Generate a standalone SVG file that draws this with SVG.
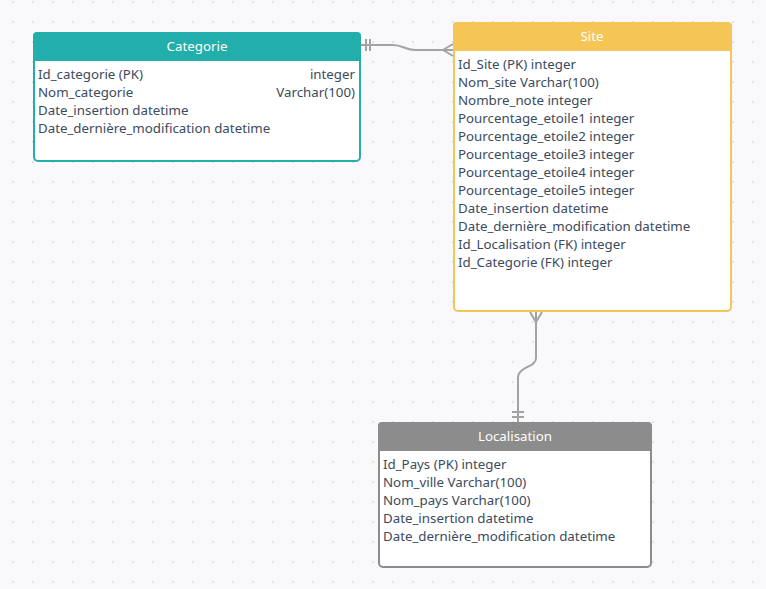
<svg xmlns="http://www.w3.org/2000/svg" width="766" height="589" viewBox="0 0 766 589">
<defs>
<pattern id="dots" x="3" y="-8" width="20" height="20" patternUnits="userSpaceOnUse">
<circle cx="10" cy="10" r="1.1" fill="#dcdce2"/>
</pattern>
<style>
.t{font-family:"Noto Sans","Open Sans",sans-serif;font-size:13.3px;fill:#3b4a5e}
.h{font-family:"Noto Sans","Open Sans",sans-serif;font-size:13.3px;fill:#ffffff;text-anchor:middle}
.c{fill:none;stroke:#a3a3a3;stroke-width:2}
</style>
</defs>
<rect width="766" height="589" fill="#f9f9fb"/>
<rect width="766" height="589" fill="url(#dots)"/>
<g id="connectors">
<path class="c" d="M360 45 H393 C403 45 405 50 415 50 H453"/>
<path class="c" d="M366 39 V51 M370 39 V51"/>
<path class="c" d="M443 50 L453 44 M443 50 L453 56"/>
<path class="c" d="M536 312 V358 C536 368 518 366 518 378 V422"/>
<path class="c" d="M536 322 L530 312 M536 322 L542 312"/>
<path class="c" d="M512 412 H524 M512 417 H524"/>
</g>
<g id="categorie">
<rect x="34" y="33" width="326" height="128" rx="4" fill="#ffffff" stroke="#22aeaa" stroke-width="2"/>
<path d="M33 61 V36 a4 4 0 0 1 4 -4 H357 a4 4 0 0 1 4 4 V61 Z" fill="#22aeaa"/>
<text class="h" x="197" y="51">Categorie</text>
<text class="t" x="38" y="79">Id_categorie (PK)</text>
<text class="t" x="355" y="79" text-anchor="end">integer</text>
<text class="t" x="38" y="97">Nom_categorie</text>
<text class="t" x="355" y="97" text-anchor="end">Varchar(100)</text>
<text class="t" x="38" y="115">Date_insertion datetime</text>
<text class="t" x="38" y="133">Date_dernière_modification datetime</text>
</g>
<g id="site">
<rect x="454" y="23" width="277" height="288" rx="4" fill="#ffffff" stroke="#f5c556" stroke-width="2"/>
<path d="M453 51 V26 a4 4 0 0 1 4 -4 H728 a4 4 0 0 1 4 4 V51 Z" fill="#f5c556"/>
<text class="h" x="592" y="41">Site</text>
<text class="t" x="458" y="69">Id_Site (PK) integer</text>
<text class="t" x="458" y="87">Nom_site Varchar(100)</text>
<text class="t" x="458" y="105">Nombre_note integer</text>
<text class="t" x="458" y="123">Pourcentage_etoile1 integer</text>
<text class="t" x="458" y="141">Pourcentage_etoile2 integer</text>
<text class="t" x="458" y="159">Pourcentage_etoile3 integer</text>
<text class="t" x="458" y="177">Pourcentage_etoile4 integer</text>
<text class="t" x="458" y="195">Pourcentage_etoile5 integer</text>
<text class="t" x="458" y="213">Date_insertion datetime</text>
<text class="t" x="458" y="231">Date_dernière_modification datetime</text>
<text class="t" x="458" y="249">Id_Localisation (FK) integer</text>
<text class="t" x="458" y="267">Id_Categorie (FK) integer</text>
</g>
<g id="localisation">
<rect x="379" y="423" width="272" height="144" rx="4" fill="#ffffff" stroke="#8c8c8c" stroke-width="2"/>
<path d="M378 451 V426 a4 4 0 0 1 4 -4 H648 a4 4 0 0 1 4 4 V451 Z" fill="#8c8c8c"/>
<text class="h" x="515" y="441">Localisation</text>
<text class="t" x="383" y="469">Id_Pays (PK) integer</text>
<text class="t" x="383" y="487">Nom_ville Varchar(100)</text>
<text class="t" x="383" y="505">Nom_pays Varchar(100)</text>
<text class="t" x="383" y="523">Date_insertion datetime</text>
<text class="t" x="383" y="541">Date_dernière_modification datetime</text>
</g>
</svg>
